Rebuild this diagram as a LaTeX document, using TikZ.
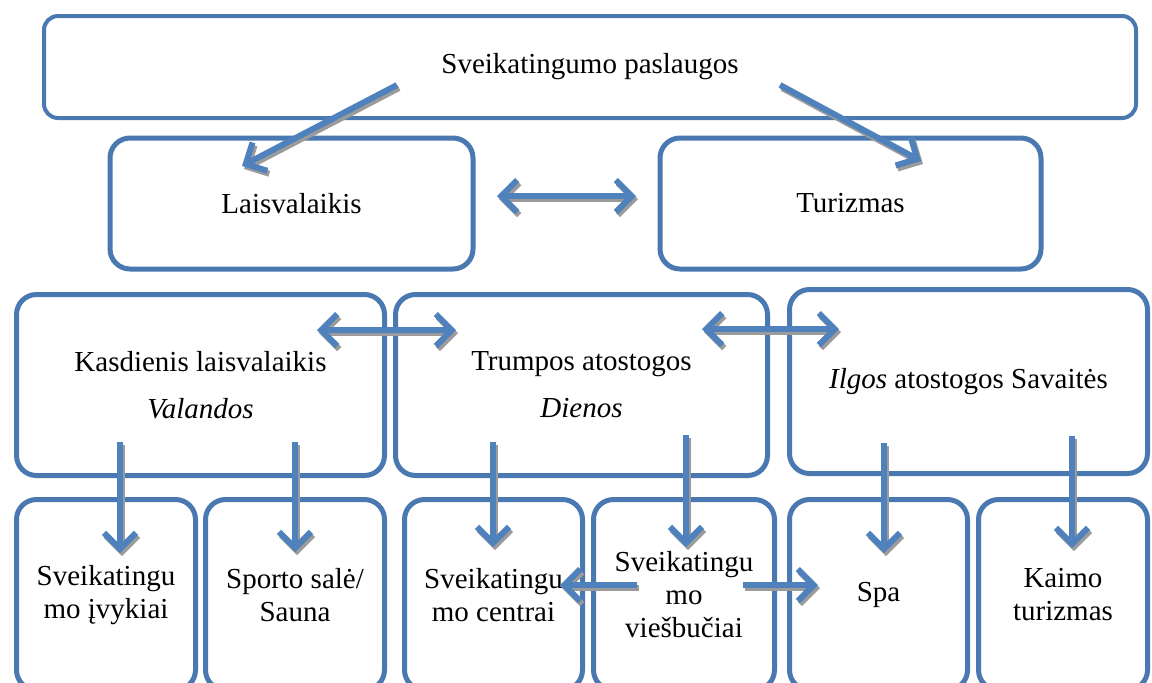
\documentclass[tikz,border=0pt]{standalone}
\usepackage{fontspec}
\setmainfont{Liberation Serif}
\usetikzlibrary{arrows.meta}
\definecolor{boxblue}{RGB}{74,120,176}
\definecolor{arrowblue}{RGB}{79,129,189}
\definecolor{shadowgray}{RGB}{155,155,155}
% an arrow with a grey drop shadow below and to the right
\newcommand\shadowlink[3]{%
  \draw[link,#1,draw=shadowgray] ([shift={(2,3)}]#2) -- ([shift={(2,3)}]#3);
  \draw[link,#1] (#2) -- (#3);}
\begin{document}
\begin{tikzpicture}[x=0.5pt,y=-0.5pt,
  box/.style={draw=boxblue, line width=2.5pt, rounded corners=10pt,
    inner sep=0pt, align=center, font=\fontsize{14.5}{16.5}\selectfont},
  widebox/.style={box, font=\fontsize{14.5}{23.5}\selectfont},
  >={Straight Barb[length=8pt,width=16pt]},
  link/.style={draw=arrowblue, line width=3pt}]
\useasboundingbox (0,0) rectangle (1152,682);
\clip (0,0) rectangle (1152,682);

% top level
\node[box, line width=2pt, rounded corners=7pt, minimum width=546pt, minimum height=51pt]
  (top) at (590,67) {Sveikatingumo paslaugos};

% second level
\node[box, minimum width=181.5pt, minimum height=65.5pt] (leis) at (291.5,203.5) {Laisvalaikis};
\node[box, minimum width=190.5pt, minimum height=65.5pt] (tur) at (850.5,203.5) {Turizmas};

% third level
\node[widebox, minimum width=184pt, minimum height=90.5pt] (kasd) at (200.5,385)
  {Kasdienis laisvalaikis\\\textit{Valandos}};
\node[widebox, minimum width=186pt, minimum height=90.5pt] (trump) at (581.5,385)
  {Trumpos atostogos\\\textit{Dienos}};
\node[widebox, minimum width=179pt, minimum height=92pt] (ilg) at (968.5,381.5)
  {\textit{Ilgos} atostogos Savaitės};

% bottom level
\node[box, minimum width=89.5pt, minimum height=95.25pt] (ivyk) at (106,594.75)
  {Sveikatingu\\mo įvykiai};
\node[box, minimum width=89.5pt, minimum height=95.25pt] (sport) at (295,594.75)
  {Sporto salė/\\Sauna};
\node[box, minimum width=89pt, minimum height=95.25pt] (centr) at (493.5,594.75)
  {Sveikatingu\\mo centrai};
\node[box, minimum width=90.5pt, minimum height=95.25pt] (visb) at (684,594.75)
  {Sveikatingu\\mo\\viešbučiai};
\node[box, minimum width=89pt, minimum height=95.25pt] (spa) at (878.5,594.75) {Spa};
\node[box, minimum width=84.5pt, minimum height=95.25pt] (kaim) at (1063,594.75)
  {Kaimo\\turizmas};

% arrow end points
\coordinate (t1) at (397,85);   \coordinate (t1e) at (242,166);
\coordinate (t2) at (780,85);   \coordinate (t2e) at (921,161);
\coordinate (lt1) at (497,196); \coordinate (lt2) at (636,196);
\coordinate (m1) at (317,330);  \coordinate (m2) at (456,330);
\coordinate (m3) at (702,329);  \coordinate (m4) at (839,329);
\coordinate (d1) at (120,442);  \coordinate (d1e) at (120,553);
\coordinate (d2) at (295,442);  \coordinate (d2e) at (295,552);
\coordinate (d3) at (493,442);  \coordinate (d3e) at (493,547);
\coordinate (d4) at (686,435);  \coordinate (d4e) at (686,547);
\coordinate (d5) at (884,443);  \coordinate (d5e) at (884,553);
\coordinate (d6) at (1072,436); \coordinate (d6e) at (1072,548);
\coordinate (h1) at (637,585);  \coordinate (h1e) at (560,585);
\coordinate (h2) at (743,585);  \coordinate (h2e) at (818,585);

% arrows
\shadowlink{->}{t1}{t1e}
\shadowlink{->}{t2}{t2e}
\shadowlink{<->}{lt1}{lt2}
\shadowlink{<->}{m1}{m2}
\shadowlink{<->}{m3}{m4}
\shadowlink{->}{d1}{d1e}
\shadowlink{->}{d2}{d2e}
\shadowlink{->}{d3}{d3e}
\shadowlink{->}{d4}{d4e}
\shadowlink{->}{d5}{d5e}
\shadowlink{->}{d6}{d6e}
\shadowlink{->}{h1}{h1e}
\shadowlink{->}{h2}{h2e}
\end{tikzpicture}
\end{document}
